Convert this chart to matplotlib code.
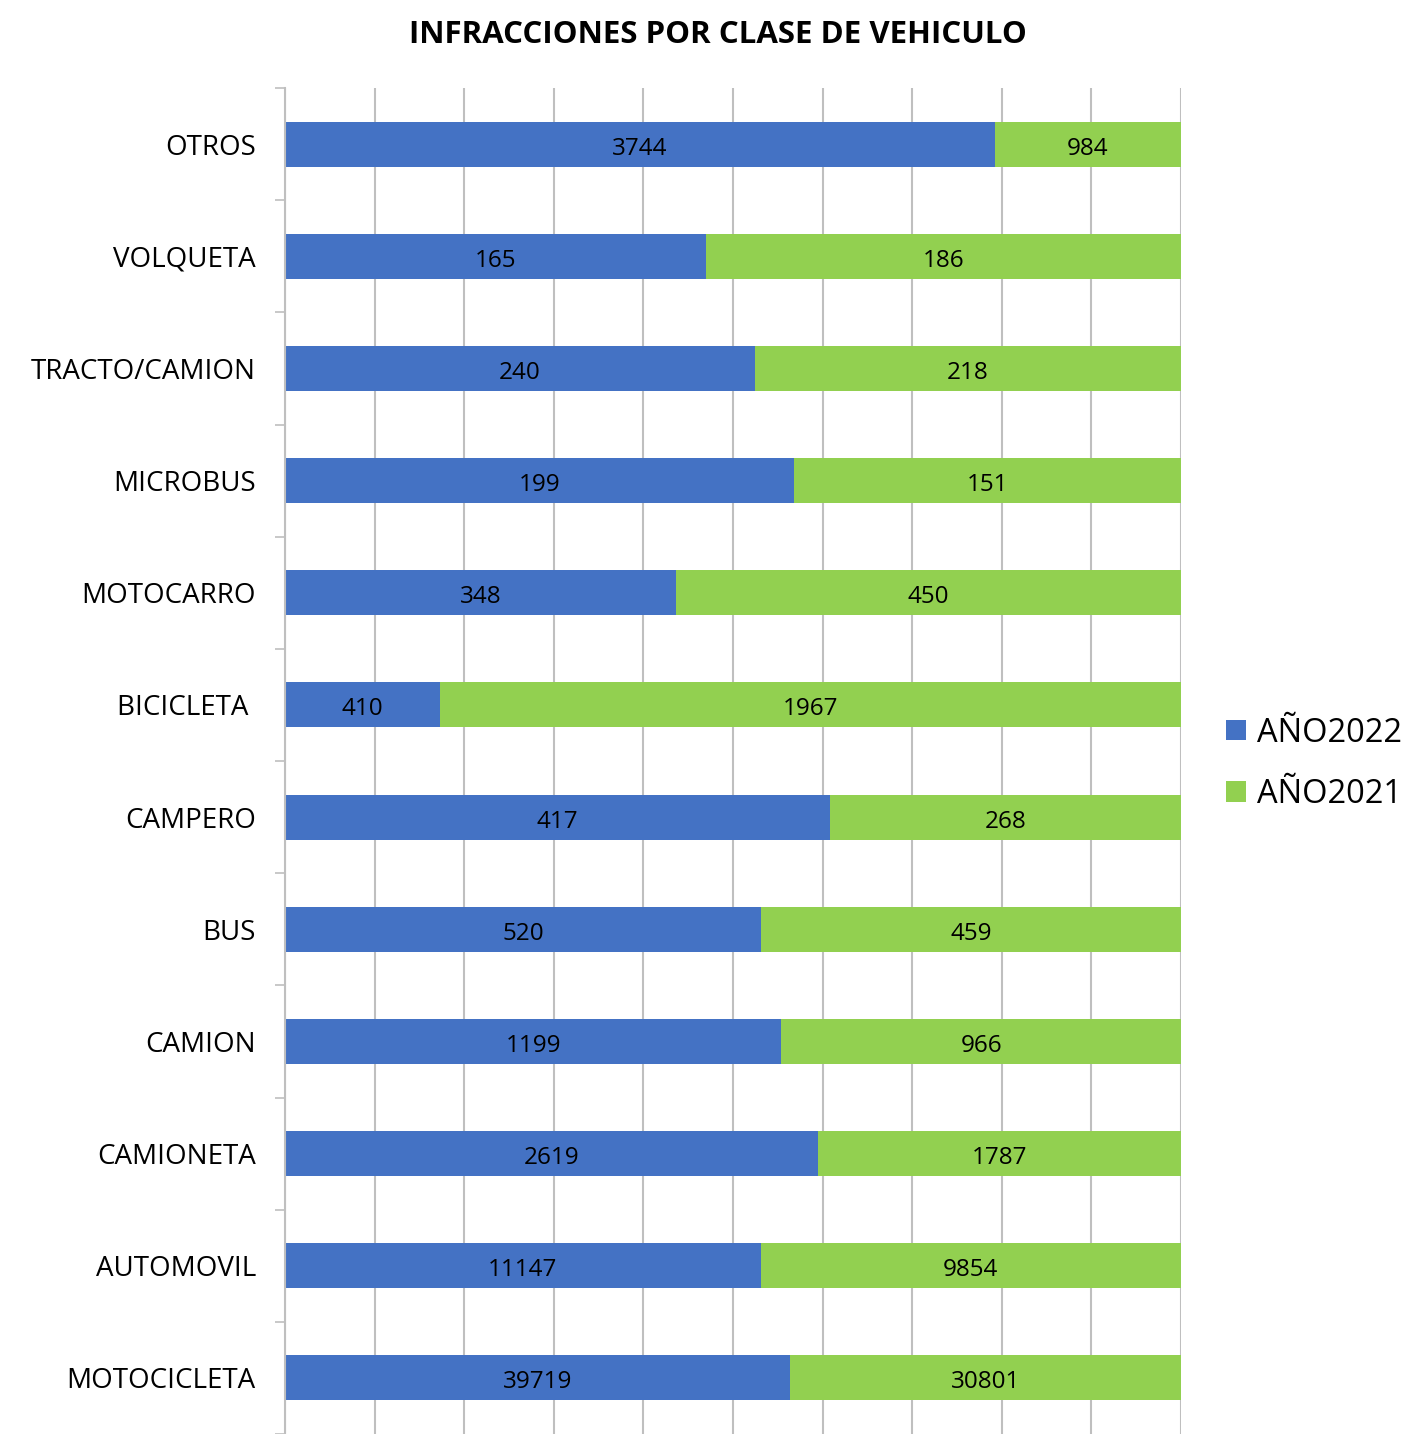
import matplotlib
matplotlib.use('Agg')
import matplotlib.pyplot as plt
import numpy as np

plt.rcParams['font.family'] = ['Open Sans', 'DejaVu Sans']

BLUE = '#4472C4'
GREEN = '#92D050'
GRID = '#BFBFBF'

# categories listed bottom to top
categories = ['MOTOCICLETA', 'AUTOMOVIL', 'CAMIONETA', 'CAMION', 'BUS', 'CAMPERO',
              'BICICLETA ', 'MOTOCARRO', 'MICROBUS', 'TRACTO/CAMION', 'VOLQUETA', 'OTROS']
anio_2022 = [39719, 11147, 2619, 1199, 520, 417, 410, 348, 199, 240, 165, 3744]
anio_2021 = [30801, 9854, 1787, 966, 459, 268, 1967, 450, 151, 218, 186, 984]

v22 = np.array(anio_2022, dtype=float)
v21 = np.array(anio_2021, dtype=float)
tot = v22 + v21
p22 = v22 / tot
p21 = v21 / tot

fig = plt.figure(figsize=(14.09, 14.34), dpi=100)
W, H = 1409, 1434
ax = fig.add_axes([285 / W, 0, (1181 - 285) / W, (1434 - 88) / H])

y = np.arange(len(categories))
ax.barh(y, p22, height=0.4, color=BLUE, label='AÑO2022', zorder=2)
ax.barh(y, p21, left=p22, height=0.4, color=GREEN, label='AÑO2021', zorder=2)

for i in range(len(categories)):
    ax.text(p22[i] / 2, y[i] - 0.04, f'{int(v22[i])}', ha='center', va='center',
            fontsize=17.5, color='black', zorder=3)
    ax.text(p22[i] + p21[i] / 2, y[i] - 0.04, f'{int(v21[i])}', ha='center', va='center',
            fontsize=17.5, color='black', zorder=3)

ax.set_xlim(0, 1)
ax.set_ylim(11.5 - (1434 - 88) / 112.7, len(categories) - 0.5)
ax.set_xticks(np.arange(0, 1.01, 0.1))
ax.set_xticklabels([])
ax.tick_params(axis='x', length=0)
ax.grid(axis='x', color=GRID, linewidth=1.5, zorder=0)

ax.set_yticks(y)
ax.set_yticklabels(categories, fontsize=20)
ax.tick_params(axis='y', which='major', length=0, pad=21)
ax.set_yticks(np.arange(-0.5, len(categories), 1), minor=True)
ax.tick_params(axis='y', which='minor', length=7, color=GRID, width=1.2)

for s in ['top', 'right', 'bottom']:
    ax.spines[s].set_visible(False)
ax.spines['left'].set_color(GRID)
ax.spines['left'].set_linewidth(1.5)

fig.text(718 / W, 1 - 35 / H, 'INFRACCIONES POR CLASE DE VEHICULO', ha='center', va='center',
         fontsize=22.5, fontweight='bold')

handles, labels = ax.get_legend_handles_labels()
fig.legend(handles, labels, loc='center left', bbox_to_anchor=(1213 / W, 1 - 764 / H),
           frameon=False, fontsize=23.5, handlelength=0.6, handleheight=0.6,
           handletextpad=0.35, labelspacing=0.88, borderaxespad=0)

fig.savefig('out.png', dpi=100)
